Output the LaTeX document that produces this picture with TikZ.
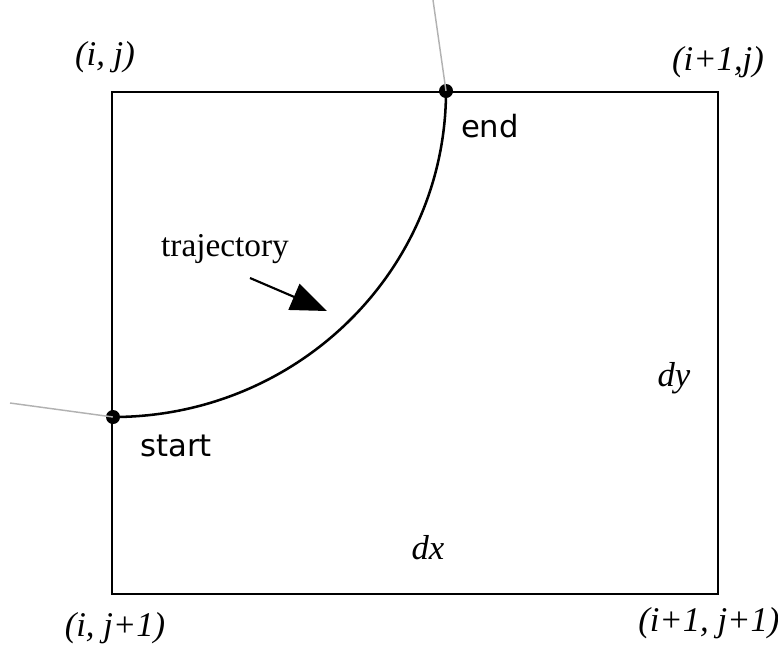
\documentclass[tikz,border=0pt]{standalone}
\usepackage{fontspec}
\setmainfont{Liberation Serif}
\newfontfamily\labelsans{DejaVu Sans}
\usetikzlibrary{arrows.meta}

\begin{document}
\begin{tikzpicture}[
  x=0.75pt, y=-0.75pt,
  idx/.style={font=\fontsize{26}{30}\selectfont\itshape, inner sep=0pt},
  tag/.style={font=\fontsize{23}{28}\selectfont\labelsans, inner sep=0pt},
  dot/.style={circle, fill=black, inner sep=0pt, minimum size=10.5pt},
  cell/.style={draw, line width=1.9pt},
  traj/.style={line width=1.9pt},
  ray/.style={draw=black!30, line width=1.1pt},
  arr/.style={-{Triangle[length=27pt, width=21pt]}, line width=1.6pt}]
\useasboundingbox (0,0) rectangle (778,647);
% --- cell ---
\draw[cell] (112,92) rectangle (718,594);
\node[idx] (ij) at (105,57) {(i, j)};
\node[idx] (i1j) at (718,62) {(i+1,j)};
\node[idx] (ij1) at (115,628) {(i, j+1)};
\node[idx, anchor=west] (i1j1) at (638,623) {(i+1, j+1)};
\node[idx] (dx) at (428,548) {dx};
\node[idx] (dy) at (674,378) {dy};
% --- trajectory ---
\node[dot] (start) at (113,417) {};
\node[dot] (end) at (446,91) {};
\coordinate (inray) at (10,403);
\coordinate (outray) at (433,0);
\draw[ray] (inray) -- (start.center);
\draw[ray] (end.center) -- (outray);
\draw[traj] (start.center) .. controls +(184,0) and +(0,180) .. (end.center);
\node[tag] (lstart) at (176,446) {start};
\node[tag] (lend) at (490,126) {end};
\node[idx, font=\fontsize{25}{30}\selectfont] (ltraj) at (225,249) {trajectory};
\coordinate (arrtail) at (250,278);
\coordinate (arrtip) at (327,311);
\draw[arr] (arrtail) -- (arrtip);
\end{tikzpicture}
\end{document}
